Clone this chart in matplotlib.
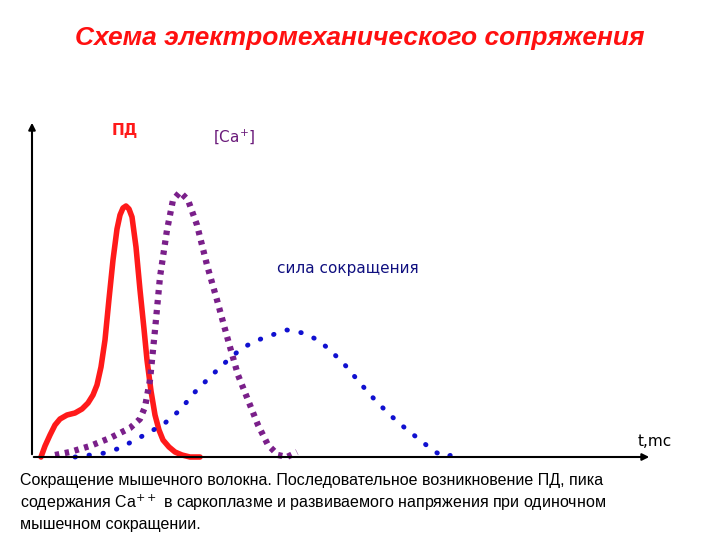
import matplotlib.pyplot as plt

# curves (x = time, y = amplitude, picture units)
pd_x = [41, 45, 50, 55, 60, 67, 75, 82, 88, 93, 97, 101, 105, 109, 113, 117, 120, 123, 126,
        129, 132, 136, 140, 144, 147, 151, 155, 159, 163, 169, 175, 182, 190, 200]
pd_y = [0, 11, 22, 32, 38, 42, 44, 48, 54, 62, 72, 90, 117, 158, 197, 228, 242, 249, 251,
        248, 240, 210, 167, 128, 97, 66, 42, 27, 17, 10, 5, 2, 0, 0]

ca_x = [55, 70, 90, 110, 130, 140, 145, 150, 155, 160, 167, 173, 180, 188, 197, 207, 217,
        228, 238, 248, 258, 268, 278, 287, 297]
ca_y = [2, 5, 11, 19, 29, 38, 50, 77, 127, 180, 227, 257, 265, 257, 232, 192, 157,
        117, 82, 57, 32, 12, 2, 0, 5]

f_x = [75, 90, 105, 120, 135, 150, 165, 180, 195, 212, 228, 242, 258, 272, 287, 303,
       318, 330, 345, 360, 375, 390, 405, 420, 435, 447, 457]
f_y = [0, 2, 4, 9, 17, 25, 34, 47, 65, 82, 97, 109, 117, 122, 127, 124,
       117, 107, 92, 74, 57, 42, 29, 17, 5, 0, 5]

fig = plt.figure(figsize=(7.2, 5.4), dpi=100)
ax = fig.add_axes([0, 0, 1, 1])
ax.set_xlim(0, 720)
ax.set_ylim(-83, 457)
ax.axis('off')

ax.annotate('', xy=(32, 337), xytext=(32, 0),
            arrowprops=dict(arrowstyle='-|>', color='black', lw=1.5, mutation_scale=10))
ax.annotate('', xy=(652, 0), xytext=(31, 0),
            arrowprops=dict(arrowstyle='-|>', color='black', lw=1.5, mutation_scale=10))

ax.plot(pd_x, pd_y, color='#ff1a1a', lw=4, solid_capstyle='round')
ax.plot(ca_x, ca_y, color='#7a1f8a', lw=4.5, linestyle=(0, (0.7, 0.9)))
ax.plot(f_x, f_y, color='#1010d0', lw=3.5, linestyle=(0, (0.1, 2.8)), dash_capstyle='round')

ax.text(112, 327, 'ПД', color='#ff1a1a', fontsize=11, fontweight='bold', va='center')
ax.text(213, 320, '[Ca$^{+}$]', color='#6a1a7a', fontsize=11, va='center')
ax.text(277, 188, 'сила сокращения', color='#101080', fontsize=11, va='center')
ax.text(638, 8, 't,mc', color='black', fontsize=11, va='bottom')

fig.text(0.5, 0.93, 'Схема электромеханического сопряжения', color='#ff1010',
         fontsize=19, fontweight='bold', style='italic', ha='center', va='center',
         family=['Liberation Sans', 'DejaVu Sans'])

fig.text(0.028, 0.015,
         'Сокращение мышечного волокна. Последовательное возникновение ПД, пика\n'
         'содержания Ca$^{++}$ в саркоплазме и развиваемого напряжения при одиночном\n'
         'мышечном сокращении.',
         fontsize=11.5, ha='left', va='bottom', linespacing=1.3,
         family=['Liberation Sans', 'DejaVu Sans'])

fig.savefig('out.png', dpi=100)
